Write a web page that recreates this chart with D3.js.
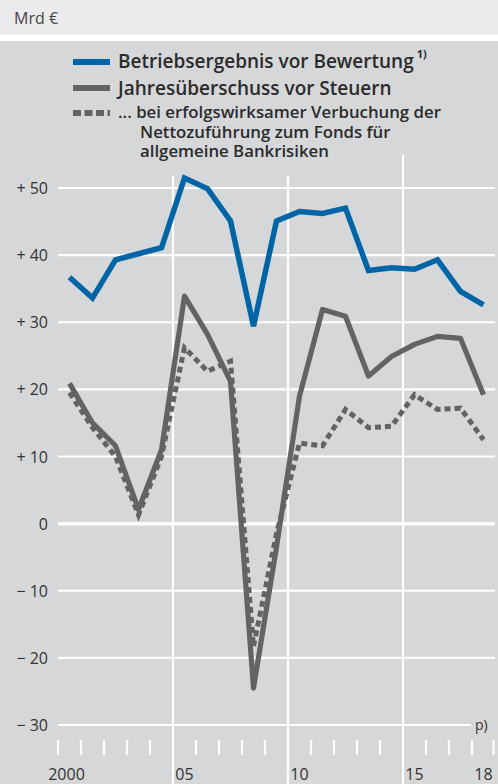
<!DOCTYPE html>
<html><head><meta charset="utf-8">
<script src="https://cdn.jsdelivr.net/npm/d3@7"></script>
<style>
html,body{margin:0;padding:0;background:#fff;}
svg{display:block;}
text{font-family:"Open Sans","Noto Sans",sans-serif;}
</style></head>
<body>
<svg id="chart" width="498" height="784"></svg>
<script>
const years = d3.range(2000, 2019);
const betriebsergebnis = [36.7, 33.6, 39.3, 40.2, 41.1, 51.5, 49.9, 45.1, 29.4, 45.1, 46.5, 46.2, 47.0, 37.7, 38.1, 37.9, 39.3, 34.6, 32.6];
const jahresueberschuss = [20.9, 15.0, 11.6, 2.1, 11.0, 33.9, 28.2, 21.2, -24.5, -3.5, 19.0, 31.9, 30.9, 22.0, 24.9, 26.7, 27.9, 27.6, 19.2];
const mitFonds = [19.5, 14.3, 10.0, 1.3, 10.0, 26.2, 22.7, 24.2, -18.3, -1.5, 12.0, 11.6, 17.0, 14.3, 14.5, 19.2, 17.0, 17.2, 12.5];
const yTicks = [50, 40, 30, 20, 10, 0, -10, -20, -30];
const xLabels = {2000: "2000", 2005: "05", 2010: "10", 2015: "15", 2018: "18"};
const legendItems = [
  {lines: ["Betriebsergebnis vor Bewertung"], sup: "1)"},
  {lines: ["Jahresüberschuss vor Steuern"]},
  {lines: ["... bei erfolgswirksamer Verbuchung der", "Nettozuführung zum Fonds für", "allgemeine Bankrisiken"]}
];

const W = 498, H = 784;
const BLUE = "#0065a6", GREY = "#636365", BG = "#d6d7d9", TXT = "#2b2b2b";
const svg = d3.select("#chart");

// backgrounds
svg.append("rect").attr("x",0).attr("y",0).attr("width",W).attr("height",35).attr("fill","#ebebed");
svg.append("rect").attr("x",0).attr("y",41).attr("width",W).attr("height",H-41).attr("fill",BG);
svg.append("text").attr("x",14).attr("y",24).attr("font-size",16).attr("fill","#444").text("Mrd €");

const x = d3.scaleBand().domain(years).range([58, 495]).padding(0);
const cx = d => x(d) + x.bandwidth()/2;
const y = d3.scaleLinear().domain([-30, 50]).range([725, 188]);

// horizontal grid
const g = svg.append("g");
yTicks.forEach(t => {
  g.append("line").attr("x1",58).attr("x2", t === -30 ? 471 : 495)
    .attr("y1",y(t)).attr("y2",y(t)).attr("stroke","#fff").attr("stroke-width", t===0?3.5:2.2);
  const lab = t > 0 ? "+ " + t : (t < 0 ? "\u2212 " + Math.abs(t) : "0");
  g.append("text").attr("x",48).attr("y",y(t)+6).attr("text-anchor","end")
    .attr("font-size",16).attr("fill","#333").text(lab);
});
g.append("text").attr("x",475).attr("y",y(-30)+5).attr("font-size",14).attr("fill","#333").text("p)");

// vertical grid lines & ticks
years.concat([2019]).forEach((yr, i) => {
  const xp = i < years.length ? x(yr) : 495;
  if (yr === 2005 || yr === 2010 || yr === 2015) {
    g.append("line").attr("x1",xp).attr("x2",xp).attr("y1", yr===2015?155:176).attr("y2",784)
      .attr("stroke","#fff").attr("stroke-width",2.2);
  } else {
    g.append("line").attr("x1",Math.min(xp,493.5)).attr("x2",Math.min(xp,493.5)).attr("y1",740).attr("y2",755)
      .attr("stroke","#fff").attr("stroke-width",2.2);
  }
});
Object.keys(xLabels).forEach(k => {
  g.append("text").attr("x",cx(+k) - (k==="2000"?3:0)).attr("y",780).attr("text-anchor","middle")
    .attr("font-size",16).attr("fill","#333").text(xLabels[k]);
});

// lines
const line = d3.line().x((d,i)=>cx(years[i])).y(d=>y(d));
svg.append("path").datum(mitFonds).attr("d",line).attr("fill","none")
  .attr("stroke",GREY).attr("stroke-width",5).attr("stroke-dasharray","6,4");
svg.append("path").datum(jahresueberschuss).attr("d",line).attr("fill","none")
  .attr("stroke",GREY).attr("stroke-width",5.2).attr("stroke-linejoin","round");
svg.append("path").datum(betriebsergebnis).attr("d",line).attr("fill","none")
  .attr("stroke",BLUE).attr("stroke-width",5.5).attr("stroke-linejoin","miter");

// legend
const leg = svg.append("g");
const swY = [62, 88, 113];
const baseY = [68, 95, 118];
legendItems.forEach((it, i) => {
  const sw = leg.append("line").attr("x1",73).attr("x2",110).attr("y1",swY[i]).attr("y2",swY[i])
    .attr("stroke", i===0?BLUE:GREY).attr("stroke-width",6);
  if (i===2) sw.attr("stroke-dasharray","8,3.5");
  const t = leg.append("text").attr("x",118).attr("y",baseY[i])
    .attr("font-size", i<2?19:16.8).attr("font-weight",600).attr("fill",TXT);
  it.lines.forEach((ln, j) => {
    t.append("tspan").attr("x", j===0?118:140).attr("dy", j===0?0:19.5).text(ln);
  });
  if (it.sup) {
    const w = t.node().getComputedTextLength();
    leg.append("text").attr("x",118+w+3).attr("y",baseY[i]-10)
      .attr("font-size",11).attr("font-weight",700).attr("fill",TXT).text(it.sup);
  }
});
</script>
</body></html>
